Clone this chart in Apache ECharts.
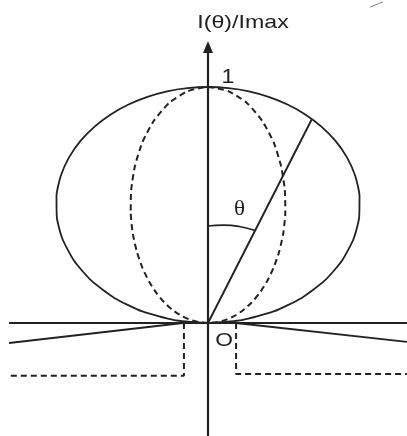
<!DOCTYPE html>
<html>
<head>
<meta charset="utf-8">
<script src="https://cdn.jsdelivr.net/npm/echarts@6/dist/echarts.min.js"></script>
<style>
html,body{margin:0;padding:0;background:#fff;}
#c{width:407px;height:436px;}
</style>
</head>
<body>
<div id="c"></div>
<script>
// ---- data (intensity I(θ)/Imax, symmetric about θ=0) ----
const thetaDeg        = [0, 5, 10, 15, 20, 25, 30, 35, 40, 45, 50, 55, 60, 65, 70, 75, 80, 85, 90];
const solidIntensity  = [1.000, 0.999, 0.997, 0.992, 0.985, 0.975, 0.961, 0.942, 0.916, 0.882, 0.838, 0.782, 0.712, 0.627, 0.527, 0.411, 0.282, 0.144, 0];
const dashedIntensity = [1.000, 0.986, 0.947, 0.887, 0.814, 0.733, 0.651, 0.571, 0.496, 0.426, 0.362, 0.304, 0.251, 0.203, 0.158, 0.116, 0.076, 0.038, 0];
const thetaMarkDeg    = 27;
const thetaMarkLength = 0.97;
const arcAngles       = [0, 9, 18, 27];
const arcRadius       = [0.411, 0.42, 0.43, 0.44];

// straight construction lines, in units of Imax (origin O)
const verticalAxisY   = [-0.479, 1.169];
const baselineX       = [-0.843, 0.843];
const leftSlantX      = [-0.106, -0.843];
const leftSlantY      = [0, -0.085];
const rightSlantX     = [0.119, 0.843];
const rightSlantY     = [0, -0.080];
const leftStepX       = [-0.102, -0.102, -0.843];
const leftStepY       = [0, -0.224, -0.224];
const rightStepX      = [0.119, 0.119, 0.843];
const rightStepY      = [0, -0.216, -0.216];
const scribbleX       = [0.686, 0.742];
const scribbleY       = [1.338, 1.361];

// ---- layout ----
const W = 407, H = 436;
const ORIGIN = [208, 323];
const UNIT = 236;
const RMAX = 1.2;
const INK = '#222222';

function mirrorPolar(vals) {
  const out = [];
  for (let i = thetaDeg.length - 1; i > 0; i--) out.push([vals[i], -thetaDeg[i]]);
  for (let i = 0; i < thetaDeg.length; i++) out.push([vals[i], thetaDeg[i]]);
  return out;
}
function zip(xs, ys) { return xs.map((x, i) => [x, ys[i]]); }

const chart = echarts.init(document.getElementById('c'), null, {renderer: 'canvas'});
const lineBase = {type: 'line', symbol: 'none', silent: true, animation: false};

chart.setOption({
  backgroundColor: '#ffffff',
  animation: false,
  grid: {left: 0, top: 0, width: W, height: H, show: false},
  xAxis: {type: 'value', min: -ORIGIN[0] / UNIT, max: (W - ORIGIN[0]) / UNIT, show: false},
  yAxis: {type: 'value', min: -(H - ORIGIN[1]) / UNIT, max: ORIGIN[1] / UNIT, show: false},
  polar: {center: [ORIGIN[0], ORIGIN[1]], radius: RMAX * UNIT},
  angleAxis: {type: 'value', min: -180, max: 180, startAngle: 270, clockwise: true, show: false},
  radiusAxis: {type: 'value', min: 0, max: RMAX, show: false},
  series: [
    Object.assign({}, lineBase, {coordinateSystem: 'polar', data: mirrorPolar(solidIntensity), smooth: 0.2,
      lineStyle: {color: INK, width: 1.8}}),
    Object.assign({}, lineBase, {coordinateSystem: 'polar', data: mirrorPolar(dashedIntensity), smooth: 0.2,
      lineStyle: {color: INK, width: 2, type: [6, 4]}}),
    Object.assign({}, lineBase, {coordinateSystem: 'polar', data: [[0, thetaMarkDeg], [thetaMarkLength, thetaMarkDeg]],
      lineStyle: {color: INK, width: 1.9}}),
    Object.assign({}, lineBase, {coordinateSystem: 'polar', data: zip(arcRadius, arcAngles), smooth: true,
      lineStyle: {color: INK, width: 1.7}}),
    Object.assign({}, lineBase, {coordinateSystem: 'cartesian2d',
      data: [[0, verticalAxisY[0]], {value: [0, verticalAxisY[1]], symbol: 'triangle', symbolSize: [10, 12],
        itemStyle: {color: INK}}],
      showAllSymbol: true, lineStyle: {color: INK, width: 2.2}}),
    Object.assign({}, lineBase, {coordinateSystem: 'cartesian2d', data: [[baselineX[0], 0], [baselineX[1], 0]],
      lineStyle: {color: INK, width: 2}}),
    Object.assign({}, lineBase, {coordinateSystem: 'cartesian2d', data: zip(leftSlantX, leftSlantY),
      lineStyle: {color: INK, width: 2}}),
    Object.assign({}, lineBase, {coordinateSystem: 'cartesian2d', data: zip(rightSlantX, rightSlantY),
      lineStyle: {color: INK, width: 2}}),
    Object.assign({}, lineBase, {coordinateSystem: 'cartesian2d', data: zip(leftStepX, leftStepY),
      lineStyle: {color: INK, width: 2, type: [6, 4]}}),
    Object.assign({}, lineBase, {coordinateSystem: 'cartesian2d', data: zip(rightStepX, rightStepY),
      lineStyle: {color: INK, width: 2, type: [6, 4]}}),
    Object.assign({}, lineBase, {coordinateSystem: 'cartesian2d', data: zip(scribbleX, scribbleY),
      lineStyle: {color: '#8a8a8a', width: 1}})
  ],
  graphic: [
    {type: 'text', x: 243, y: 23, scaleX: 1.22,
      style: {text: 'I(θ)/Imax', font: '19px "Liberation Sans", Arial, sans-serif', fill: INK,
        textAlign: 'center', textVerticalAlign: 'middle'}},
    {type: 'text', x: 228, y: 77, scaleX: 1.15,
      style: {text: '1', font: '20px "Liberation Sans", Arial, sans-serif', fill: INK,
        textAlign: 'center', textVerticalAlign: 'middle'}},
    {type: 'text', x: 239.5, y: 209.5, scaleX: 1.05,
      style: {text: 'θ', font: '22px "Liberation Serif", "Times New Roman", serif', fill: INK,
        textAlign: 'center', textVerticalAlign: 'middle'}},
    {type: 'text', x: 224, y: 341, scaleX: 1.2,
      style: {text: 'O', font: '19px "Liberation Sans", Arial, sans-serif', fill: INK,
        textAlign: 'center', textVerticalAlign: 'middle'}}
  ]
});
</script>
</body>
</html>
